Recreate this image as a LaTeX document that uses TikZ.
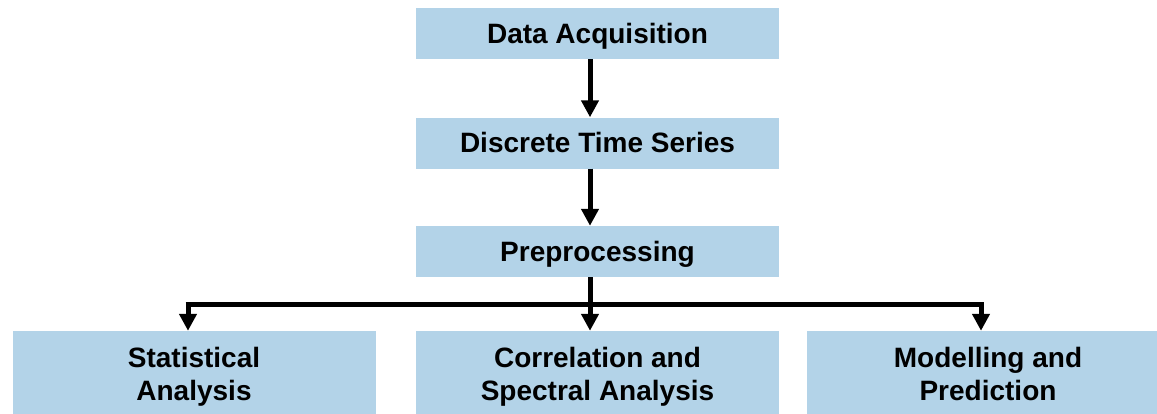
\documentclass[tikz,border=0pt]{standalone}
\usepackage{fontspec}
\setmainfont{Liberation Sans}
\usetikzlibrary{arrows.meta}
\definecolor{boxblue}{HTML}{B3D3E8}
\newcommand{\ls}{\rule[-9.9pt]{0pt}{33pt}}
\begin{document}
\begin{tikzpicture}[x=1pt,y=-1pt,
  box/.style={fill=boxblue, draw=none, minimum width=363pt, minimum height=51pt, inner sep=0pt,
    font=\fontsize{28}{33}\selectfont\bfseries, align=center},
  onebox/.style={box, text height=24pt, text depth=5pt},
  tallbox/.style={box, minimum height=92pt},
  arr/.style={line width=5pt, -{Triangle[width=17pt,length=17pt]}},
  conn/.style={line width=5pt}]
\useasboundingbox (0,0) rectangle (1157,413);
\clip (0,0) rectangle (1157,413);
\node[onebox] (A) at (597.5,33.5) {Data Acquisition};
\node[onebox] (B) at (597.5,143) {Discrete Time Series};
\node[onebox] (C) at (597.5,251.5) {Preprocessing};
\node[tallbox] (L) at (194,377) {Statistical\ls\\Analysis\ls};
\node[tallbox] (M) at (597.5,377) {Correlation and\ls\\Spectral Analysis\ls};
\node[tallbox] (R) at (988,377) {Modelling and\ls\\Prediction\ls};
\coordinate (lsplit) at (188,304);
\coordinate (rsplit) at (981,304);
\draw[arr] ([xshift=-7.5pt]A.south) -- ([xshift=-7.5pt]B.north);
\draw[arr] ([xshift=-7.5pt]B.south) -- ([xshift=-7.5pt]C.north);
\draw[arr] ([xshift=-7.5pt]C.south) -- ([xshift=-7.5pt]M.north);
\draw[conn] ([xshift=-2.5pt]lsplit) -- ([xshift=2.5pt]rsplit);
\draw[arr] (lsplit) -- (lsplit |- L.north);
\draw[arr] (rsplit) -- (rsplit |- R.north);
\end{tikzpicture}
\end{document}
